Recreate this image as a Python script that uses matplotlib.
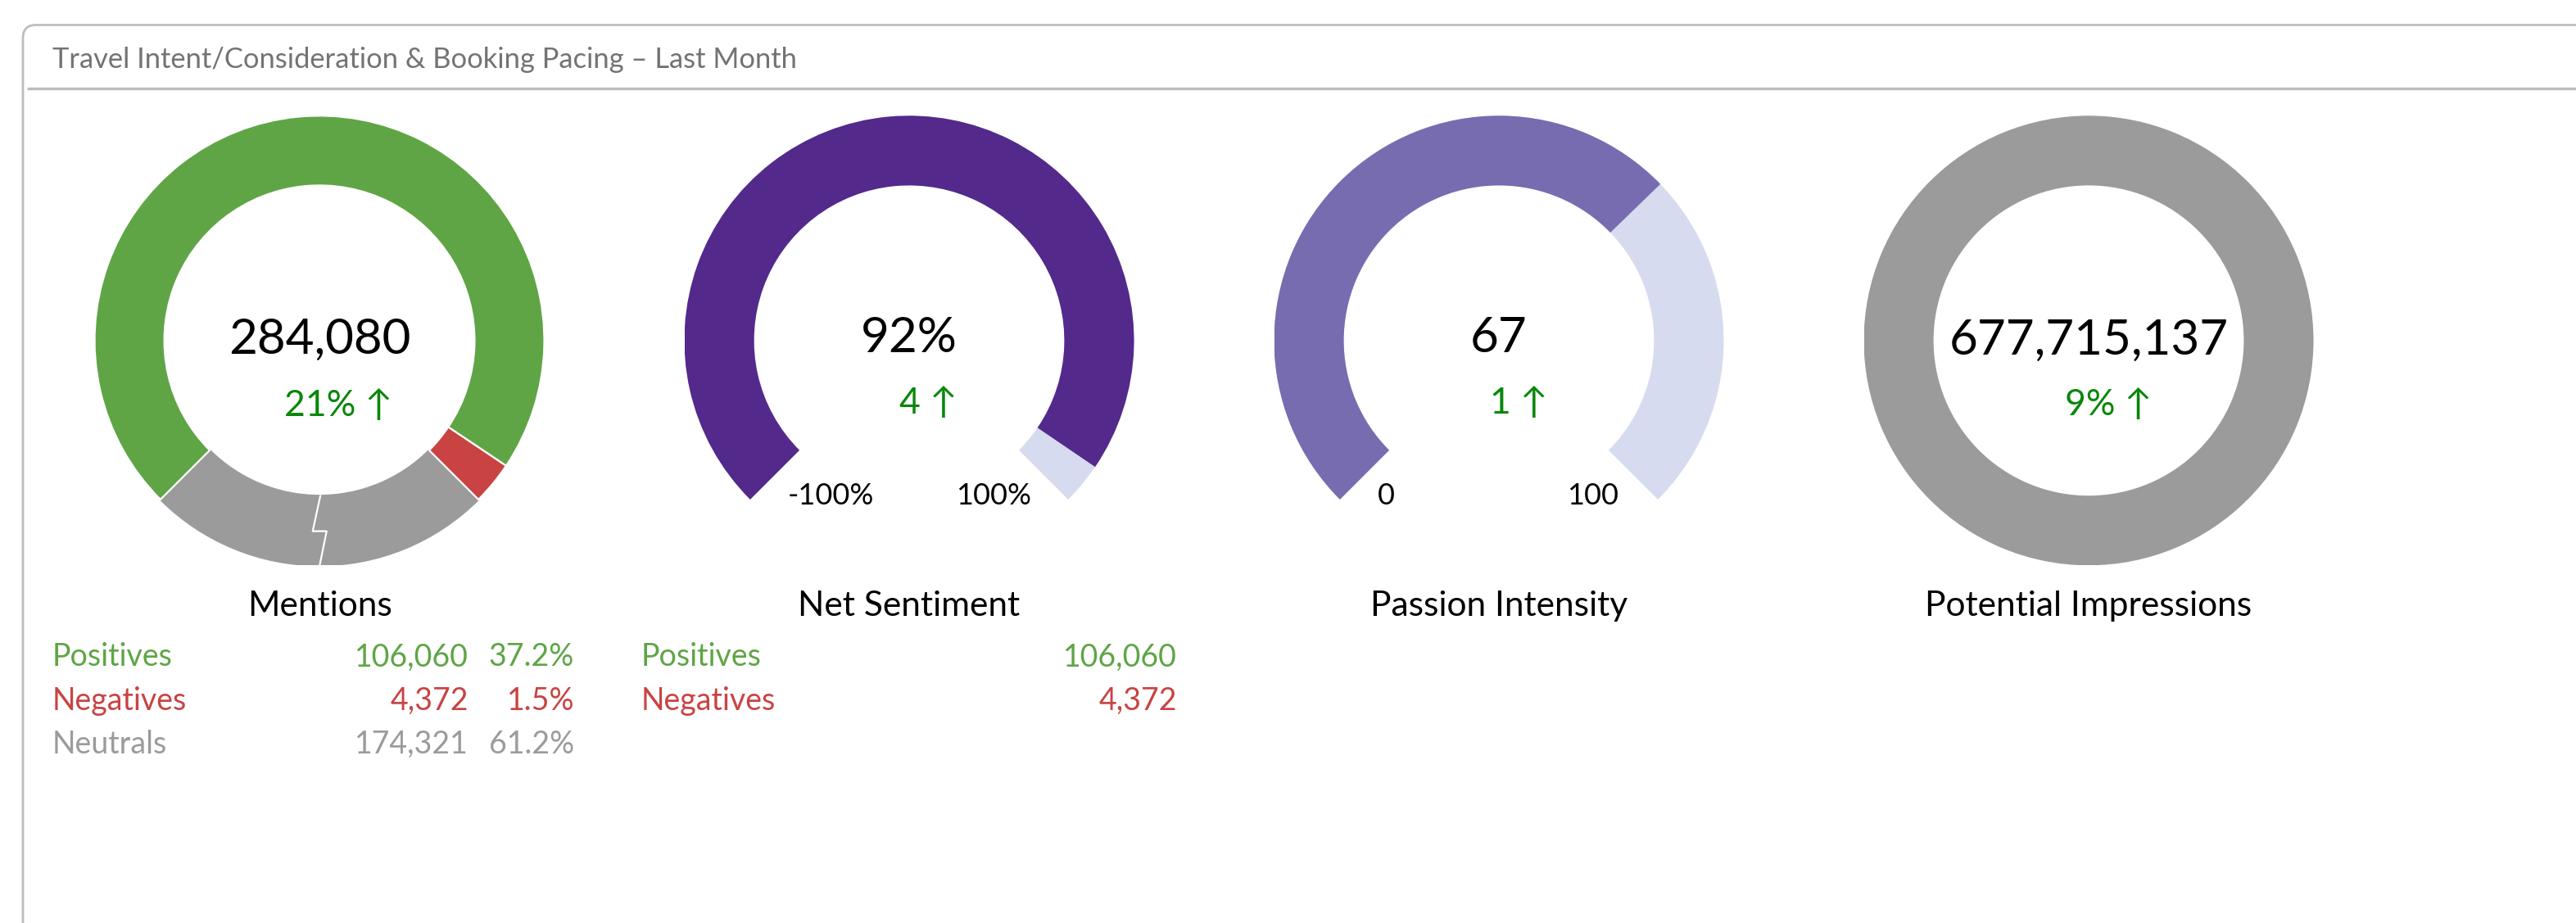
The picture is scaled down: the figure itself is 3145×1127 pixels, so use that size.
import matplotlib
matplotlib.use('Agg')
import matplotlib.pyplot as plt
from matplotlib.patches import Wedge, FancyBboxPatch

plt.rcParams['font.family'] = ['Lato', 'DejaVu Sans']

W, H = 3145, 1127

# --- data ---
panel_title = 'Travel Intent/Consideration & Booking Pacing – Last Month'
chart_titles = ['Mentions', 'Net Sentiment', 'Passion Intensity', 'Potential Impressions']
center_values = ['284,080', '92%', '67', '677,715,137']
delta_values = ['21%', '4', '1', '9%']

mention_labels = ['Positives', 'Negatives', 'Neutrals']
mention_counts = [106060, 4372, 174321]
mention_pcts = [37.2, 1.5, 61.2]
# ring shares as drawn: neutral, negative, positive
mention_ring = [25.0, 3.1, 71.9]

net_labels = ['Positives', 'Negatives']
net_counts = [106060, 4372]

net_sentiment = 92
net_range = [-100, 100]
passion = 67
passion_range = [0, 100]

GREEN = '#5fa546'
RED = '#c94343'
GREY = '#9b9b9b'
PURPLE = '#53298c'
LILAC = '#776cb0'
PALE = '#d7dbef'
UP = '#0a870a'

fig = plt.figure(figsize=(W / 100, H / 100), dpi=100)
bg = fig.add_axes([0, 0, 1, 1])
bg.set_xlim(0, W)
bg.set_ylim(H, 0)
bg.axis('off')

# panel frame
bg.add_patch(FancyBboxPatch((28, 30.5), 3400, 1400, boxstyle='round,pad=0,rounding_size=16',
                            fc='none', ec='#bdbdbd', lw=2))
bg.plot([33, W], [107.5, 107.5], color='#bbbbbb', lw=2.4, solid_capstyle='butt')
bg.text(64, 83, panel_title, fontsize=24.8, color='#737373', va='baseline')

R = 274.5
CY = 415.8
RING = 0.31


def chart_axes(cx):
    a = fig.add_axes([(cx - R) / W, 1 - (CY + R) / H, 2 * R / W, 2 * R / H])
    a.set_xlim(-1, 1)
    a.set_ylim(-1, 1)
    a.axis('off')
    a.patch.set_alpha(0)
    return a


centers_x = [390, 1110, 1830, 2550]

# Mentions donut
ax = chart_axes(centers_x[0])
start = 225
shares = [s / sum(mention_ring) * 360 for s in mention_ring]
cols = [GREY, RED, GREEN]
for i, (sh, c) in enumerate(zip(shares, cols)):
    ec = c if i == 0 else 'white'
    ax.add_patch(Wedge((0, 0), 1, start, start + sh, width=RING, fc=c, ec=ec, lw=1.6))
    start += sh
ax.plot([0.004, -0.03, 0.032, 0.001], [-0.691, -0.848, -0.848, -1.0], color='white', lw=1.6)


def gauge(cx, value, rng, color):
    a = chart_axes(cx)
    frac = (value - rng[0]) / (rng[1] - rng[0])
    a.add_patch(Wedge((0, 0), 1, 225 - 270, 225, width=RING, fc=PALE, ec='none'))
    a.add_patch(Wedge((0, 0), 1, 225 - 270 * frac, 225, width=RING, fc=color, ec='none'))


gauge(centers_x[1], net_sentiment, net_range, PURPLE)
gauge(centers_x[2], passion, passion_range, LILAC)

# Potential impressions ring
ax = chart_axes(centers_x[3])
ax.add_patch(Wedge((0, 0), 1, 0, 360, width=RING, fc=GREY, ec='none'))

# centre numbers and deltas
value_base = [432.3, 430.5, 430.5, 432.4]
delta_x = [413.5, 1133, 1854, 2574]
delta_base = [507.7, 505, 505, 507.5]
for i in range(4):
    bg.text(centers_x[i], value_base[i], center_values[i], fontsize=43.3, color='black',
            ha='center', va='baseline')
    bg.text(delta_x[i], delta_base[i], delta_values[i] + ' ↑', fontsize=32, color=UP,
            ha='center', va='baseline')
    bg.text(centers_x[i], 751.7, chart_titles[i], fontsize=30.6, color='black',
            ha='center', va='baseline')

# gauge end labels
bg.text(1014, 616.4, f'{net_range[0]}%', fontsize=26, ha='center', va='baseline')
bg.text(1212.6, 616.4, f'{net_range[1]}%', fontsize=26, ha='center', va='baseline')
bg.text(1692, 616.4, f'{passion_range[0]}', fontsize=26, ha='center', va='baseline')
bg.text(1945, 616.4, f'{passion_range[1]}', fontsize=26, ha='center', va='baseline')

# tables
row_base = [813.3, 866.7, 920]
row_cols = [GREEN, RED, GREY]
for i, lab in enumerate(mention_labels):
    bg.text(63.3, row_base[i], lab, fontsize=27, color=row_cols[i], va='baseline')
    bg.text(572, row_base[i], f'{mention_counts[i]:,}', fontsize=27, color=row_cols[i],
            ha='right', va='baseline')
    bg.text(701, row_base[i], f'{mention_pcts[i]}%', fontsize=27, color=row_cols[i],
            ha='right', va='baseline')
for i, lab in enumerate(net_labels):
    bg.text(783, row_base[i], lab, fontsize=27, color=row_cols[i], va='baseline')
    bg.text(1437, row_base[i], f'{net_counts[i]:,}', fontsize=27, color=row_cols[i],
            ha='right', va='baseline')

fig.savefig('out.png', dpi=100)
